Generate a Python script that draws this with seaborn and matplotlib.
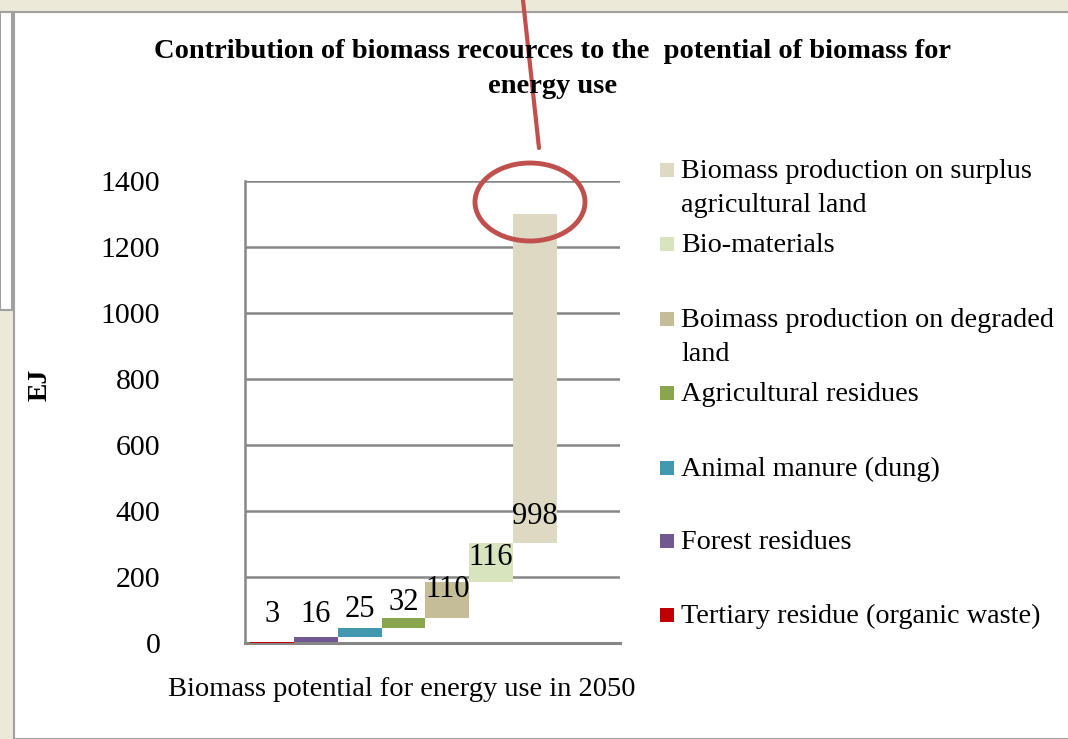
import matplotlib
matplotlib.use("Agg")
import matplotlib.pyplot as plt
import seaborn as sns
from matplotlib.patches import Ellipse, Rectangle
from matplotlib.lines import Line2D

# data
series = ["Tertiary residue (organic waste)", "Forest residues", "Animal manure (dung)",
          "Agricultural residues", "Boimass production on degraded\nland", "Bio-materials",
          "Biomass production on surplus\nagricultural land"]
values = [3, 16, 25, 32, 110, 116, 998]
colors = ["#C00000", "#71588F", "#4198AF", "#89A54E", "#C4BD97", "#D7E4BD", "#DDD9C3"]

# waterfall starts come from the running total
starts = [sum(values[:i]) for i in range(len(values))]

# label heights (layout, in EJ) as placed in the original
label_y = [85, 85, 103, 124, 161, 260, 382]

sns.set_style("white")
plt.rcParams["font.family"] = ["Liberation Serif", "DejaVu Serif"]
plt.rcParams["text.color"] = "black"
plt.rcParams["ytick.color"] = "black"
plt.rcParams["ytick.labelcolor"] = "black"

W, H = 1068, 739
fig = plt.figure(figsize=(W / 100, H / 100), dpi=100)
fig.patch.set_facecolor("#ECE9D8")

def fx(px):
    return px / W

def fy(py):
    return 1 - py / H

# screenshot frame: white chart panel and side window
fig.patches.append(Rectangle((fx(14), 0), 1, fy(12), transform=fig.transFigure,
                             facecolor="white", edgecolor="#A0A0A0", lw=1.5, zorder=-5))
fig.patches.append(Rectangle((0, fy(310)), fx(12), fy(12) - fy(310), transform=fig.transFigure,
                             facecolor="white", edgecolor="#A0A0A0", lw=1.5, zorder=-5))

ax = fig.add_axes([fx(245), fy(643), fx(620) - fx(245), fy(181) - fy(643)])
ax.set_facecolor("none")

sns.barplot(x=list(range(len(values))), y=values, hue=list(range(len(values))),
            palette=colors, width=1, legend=False, saturation=1, linewidth=0, ax=ax)
for patch, b in zip(ax.patches, starts):
    patch.set_y(b)
    patch.set_zorder(4)

for i, (v, ly) in enumerate(zip(values, label_y)):
    ax.text(i, ly, str(v), ha="center", va="center", fontsize=22, zorder=5)

ax.set_xlim(-0.62, 7.95)
ax.set_ylim(0, 1400)
ax.set_yticks(range(0, 1401, 200))
ax.set_xticks([])
ax.yaxis.grid(True, color="#868686", lw=1.8)
ax.set_axisbelow(True)
for s in ["top", "right"]:
    ax.spines[s].set_visible(False)
ax.spines["left"].set_color("#868686")
ax.spines["left"].set_linewidth(1.8)
ax.spines["bottom"].set_color("#868686")
ax.spines["bottom"].set_linewidth(2.2)
ax.tick_params(axis="y", length=0, pad=61, labelsize=21.5)
ax.set_xlabel("")
ax.set_ylabel("")

fig.text(fx(553), fy(39), "Contribution of biomass recources to the  potential of biomass for\nenergy use",
         ha="center", va="top", fontsize=20.5, fontweight="bold", linespacing=1.55)
fig.text(fx(40), fy(385), "EJ", rotation=90, ha="center", va="center", fontsize=20, fontweight="bold")
fig.text(fx(402), fy(690), "Biomass potential for energy use in 2050", ha="center", va="center", fontsize=20.5)

# legend, top entry first, first line aligned with the swatch
leg_rows = [170, 244, 319, 393, 468, 541, 615]
for name, c, ry in zip(series[::-1], colors[::-1], leg_rows):
    fig.patches.append(Rectangle((fx(660), fy(ry + 7)), fx(14), fy(ry - 7) - fy(ry + 7),
                                 transform=fig.transFigure, facecolor=c, edgecolor="none"))
    fig.text(fx(681), fy(ry - 11), name, ha="left", va="top", fontsize=20.3, linespacing=1.45)

# red highlight drawn on the screenshot
fig.lines.append(Line2D([fx(523), fx(539)], [fy(0), fy(148)], transform=fig.transFigure,
                        color="#C0504D", lw=3))
fig.patches.append(Ellipse((fx(530), fy(202)), fx(110), 78 / H, transform=fig.transFigure,
                           facecolor="none", edgecolor="#C0504D", lw=3.5, zorder=10))

fig.savefig("out.png", dpi=100)
